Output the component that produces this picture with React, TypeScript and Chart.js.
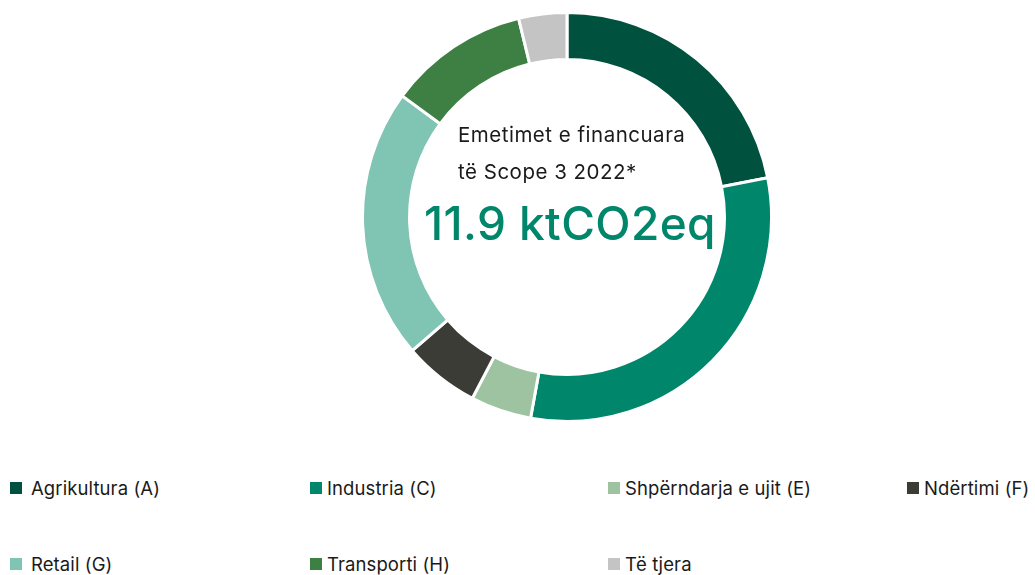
import React, { useEffect, useRef } from "react";
import { Chart, registerables } from "chart.js";

Chart.register(...registerables);

const categories = [
  "Agrikultura (A)",
  "Industria (C)",
  "Shpërndarja e ujit (E)",
  "Ndërtimi (F)",
  "Retail (G)",
  "Transporti (H)",
  "Të tjera",
];
const shares = [21.9, 30.9, 4.8, 6.0, 21.4, 11.1, 3.8];
const colors = ["#00523F", "#00866A", "#9DC3A0", "#3C3C37", "#80C4B4", "#3E7F43", "#C4C4C4"];
const centerLines = ["Emetimet e financuara", "të Scope 3 2022*"];
const centerValue = "11.9 ktCO2eq";

const legendCols = [10, 310, 608, 907];
const legendRows = [488, 564];

export default function App() {
  const ref = useRef<HTMLCanvasElement | null>(null);
  useEffect(() => {
    if (!ref.current) return;
    const chart = new Chart(ref.current, {
      type: "doughnut",
      data: {
        labels: categories,
        datasets: [
          {
            data: shares,
            backgroundColor: colors,
            borderColor: "#ffffff",
            borderWidth: 3,
          },
        ],
      },
      options: {
        animation: false,
        responsive: false,
        maintainAspectRatio: false,
        cutout: "77%",
        layout: { padding: 0 },
        plugins: {
          legend: { display: false },
          tooltip: { enabled: false },
        },
      },
    });
    return () => chart.destroy();
  }, []);

  const font = "Inter, 'Noto Sans', sans-serif";
  return (
    <div style={{ position: "absolute", left: 0, top: 0, width: 1035, height: 575, background: "#fff", fontFamily: font, overflow: "hidden" }}>
      <canvas ref={ref} width={412} height={412} style={{ position: "absolute", left: 361, top: 11, width: 412, height: 412 }} />
      <div style={{ position: "absolute", left: 458, top: 122, fontSize: 20.5, letterSpacing: "0.5px", lineHeight: "26px", color: "#1a1a1a", whiteSpace: "nowrap" }}>{centerLines[0]}</div>
      <div style={{ position: "absolute", left: 458, top: 159, fontSize: 20.5, letterSpacing: "0.5px", lineHeight: "26px", color: "#1a1a1a", whiteSpace: "nowrap" }}>{centerLines[1]}</div>
      <div style={{ position: "absolute", left: 424, top: 195, fontSize: 46, letterSpacing: "0.4px", lineHeight: "56px", color: "#00866A", whiteSpace: "nowrap", fontWeight: 500 }}>{centerValue}</div>
      {categories.map((c, i) => {
        const col = i < 4 ? i : i - 4;
        const row = i < 4 ? 0 : 1;
        const x = legendCols[col];
        const y = legendRows[row];
        return (
          <div key={c} style={{ position: "absolute", left: x, top: y - 12, height: 24, display: "flex", alignItems: "center", whiteSpace: "nowrap", fontSize: 18.5, letterSpacing: "0.1px", color: "#1a1a1a" }}>
            <span style={{ display: "inline-block", width: 12, height: 12, background: colors[i], marginRight: col === 0 ? 9 : 5 }} />
            <span>{c}</span>
          </div>
        );
      })}
    </div>
  );
}
